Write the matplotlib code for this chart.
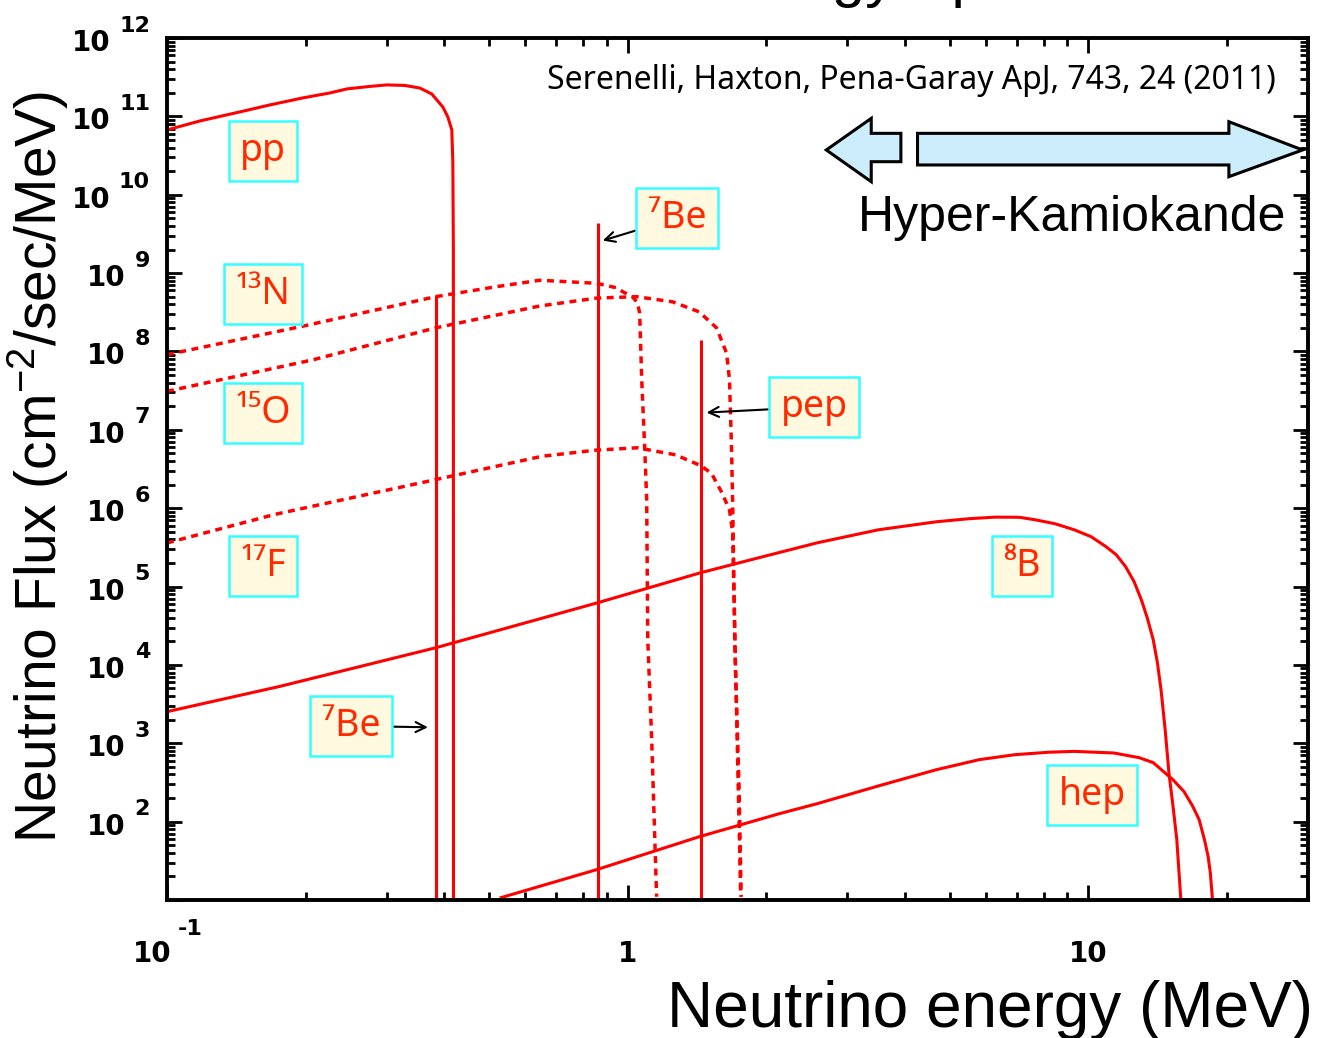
import numpy as np
import matplotlib
matplotlib.use("Agg")
import matplotlib.pyplot as plt
import matplotlib.transforms as mtransforms
from matplotlib.patches import Polygon
from matplotlib.ticker import LogLocator, NullFormatter

plt.rcParams["font.family"] = ["Liberation Sans", "DejaVu Sans"]
plt.rcParams["mathtext.fontset"] = "custom"
plt.rcParams["mathtext.rm"] = "Liberation Sans"
plt.rcParams["mathtext.it"] = "Liberation Sans:italic"
plt.rcParams["mathtext.bf"] = "Liberation Sans:bold"

# ---------------- continuum spectra: energy (MeV), flux (cm^-2 s^-1 MeV^-1) -------------
pp_E = [0.100, 0.1179, 0.1440, 0.1673, 0.1972, 0.2258, 0.2458, 0.2756, 0.3001, 0.3283,
        0.3539, 0.3757, 0.3969, 0.4071, 0.4153, 0.4174, 0.4185, 0.4188]
pp_flux = [6.71e10, 8.74e10, 1.14e11, 1.40e11, 1.72e11, 1.99e11, 2.24e11, 2.41e11,
           2.52e11, 2.48e11, 2.30e11, 1.93e11, 1.32e11, 9.83e10, 6.71e10, 2.55e10,
           1.98e9, 3.0]

N13_E = [0.100, 0.197, 0.383, 0.510, 0.644, 0.700, 0.857, 0.945, 0.978, 1.024, 1.050,
         1.062, 1.073, 1.089, 1.100, 1.106, 1.128, 1.156]
N13_flux = [9.1e7, 2.1e8, 5.0e8, 6.6e8, 8.1e8, 7.9e8, 7.4e8, 6.5e8, 5.75e8, 5.0e8, 4.2e8,
            3.1e8, 4.4e7, 6.0e6, 1.3e6, 2.1e4, 1.1e3, 11.0]

O15_E = [0.100, 0.207, 0.383, 0.644, 0.857, 1.046, 1.252, 1.430, 1.560, 1.640, 1.664,
         1.681, 1.690, 1.698, 1.711, 1.746, 1.764]
O15_flux = [3.1e7, 7.8e7, 2.0e8, 3.8e8, 4.8e8, 5.0e8, 4.3e8, 3.2e8, 2.0e8, 9.5e7, 4.4e7,
            6.0e6, 1.3e6, 2.4e5, 1.3e4, 2.6e2, 11.0]

F17_E = [0.100, 0.171, 0.381, 0.652, 0.853, 1.050, 1.270, 1.440, 1.520, 1.600, 1.664,
         1.690, 1.706, 1.730, 1.760]
F17_flux = [3.6e5, 8.3e5, 2.3e6, 4.6e6, 5.5e6, 5.9e6, 4.8e6, 3.5e6, 2.8e6, 1.6e6, 9.5e5,
            5.0e5, 4.0e4, 1.0e3, 11.0]

B8_E = [0.100, 0.1758, 0.3833, 0.8607, 1.440, 2.002, 2.583, 3.503, 4.681, 5.491, 6.285,
        7.085, 7.674, 8.479, 9.325, 10.15, 10.92, 11.50, 12.05, 12.58, 13.04, 13.43,
        13.84, 14.12, 14.39, 14.69, 14.97, 15.29, 15.57, 15.88]
B8_flux = [2530, 5320, 16560, 62100, 1.50e5, 2.47e5, 3.62e5, 5.30e5, 6.71e5, 7.33e5,
           7.69e5, 7.65e5, 7.11e5, 6.32e5, 5.30e5, 4.32e5, 3.24e5, 2.55e5, 1.80e5,
           1.15e5, 67900, 40000, 20900, 11000, 4830, 1490, 418, 151, 58.9, 10.6]

hep_E = [0.5276, 0.8566, 1.433, 2.137, 2.583, 3.521, 4.681, 5.801, 6.944, 8.230, 9.325,
         11.36, 12.90, 13.84, 15.27, 16.15, 16.86, 17.41, 17.88, 18.21, 18.41, 18.60]
hep_flux = [10.6, 24.4, 64.4, 126.5, 169.8, 287.9, 460, 618, 716, 769, 788, 752, 655,
            566, 343, 241, 157, 106, 58.9, 35.8, 22.2, 10.6]

# ---------------- monoenergetic lines: energy (MeV), flux (cm^-2 s^-1) ----------------
line_E = [0.384, 0.862, 1.442]
line_flux = [5.2e8, 4.4e9, 1.4e8]

# tick labels
y_exponents = list(range(2, 13))
x_tick_values = [0.1, 1, 10]
x_tick_bases = ["10", "1", "10"]
x_tick_exponents = ["-1", "", ""]

RED = "#FF0000"
LABEL_RED = "#FF2A00"
BOX_FACE = "#FFFADF"
BOX_EDGE = "#33FFFF"

W, H = 1318, 1038
fig = plt.figure(figsize=(W / 100, H / 100), dpi=100)
ax = fig.add_axes([167 / W, 1 - 900 / H, (1308 - 167) / W, (900 - 38) / H])
ax.set_xscale("log")
ax.set_yscale("log")
ax.set_xlim(0.1, 30)
ax.set_ylim(10, 1e12)

solid = dict(color=RED, lw=2.2, solid_capstyle="butt", solid_joinstyle="round")
dotted = dict(color=RED, lw=2.5, linestyle=(0, (2.0, 1.6)))

ax.plot(pp_E, pp_flux, **solid)
ax.plot(B8_E, B8_flux, **solid)
ax.plot(hep_E, hep_flux, **solid)
ax.plot(N13_E, N13_flux, **dotted)
ax.plot(O15_E, O15_flux, **dotted)
ax.plot(F17_E, F17_flux, **dotted)
ax.vlines(line_E, 1.0, line_flux, colors=RED, lw=2.2)

# axes frame and ticks
for s in ax.spines.values():
    s.set_linewidth(2.8)
ax.xaxis.set_major_locator(LogLocator(base=10, numticks=20))
ax.xaxis.set_minor_locator(LogLocator(base=10, subs=np.arange(2, 10), numticks=100))
ax.yaxis.set_major_locator(LogLocator(base=10, numticks=30))
ax.yaxis.set_minor_locator(LogLocator(base=10, subs=np.arange(2, 10), numticks=200))
for axis in (ax.xaxis, ax.yaxis):
    axis.set_major_formatter(NullFormatter())
    axis.set_minor_formatter(NullFormatter())
ax.tick_params(which="both", direction="in", top=True, right=True, width=2.0, color="k")
ax.tick_params(which="major", length=10.5)
ax.tick_params(which="minor", length=5.5)

# y tick labels: bold "10" with a raised exponent
tick_font = dict(fontweight="bold", color="k", family="DejaVu Sans")
base_fs, exp_fs = 20, 16
ytrans = ax.get_yaxis_transform()
exp_digit_px = 0.696 * exp_fs * 100 / 72
for k in y_exponents:
    t_exp = mtransforms.offset_copy(ytrans, fig=fig, x=-17, y=6.5, units="dots")
    ax.text(0, 10.0 ** k, str(k), transform=t_exp, ha="right", va="baseline",
            fontsize=exp_fs, clip_on=False, **tick_font)
    shift = -17 - len(str(k)) * exp_digit_px - 9
    t_base = mtransforms.offset_copy(ytrans, fig=fig, x=shift, y=-13, units="dots")
    ax.text(0, 10.0 ** k, "10", transform=t_base, ha="right", va="baseline",
            fontsize=base_fs, clip_on=False, **tick_font)

# x tick labels
xtrans = ax.get_xaxis_transform()
for v, b, e in zip(x_tick_values, x_tick_bases, x_tick_exponents):
    if e:
        t_base = mtransforms.offset_copy(xtrans, fig=fig, x=5, y=-62, units="dots")
        ax.text(v, 0, b, transform=t_base, ha="right", va="baseline",
                fontsize=base_fs, clip_on=False, **tick_font)
        t_exp = mtransforms.offset_copy(xtrans, fig=fig, x=11, y=-35, units="dots")
        ax.text(v, 0, e, transform=t_exp, ha="left", va="baseline",
                fontsize=exp_fs, clip_on=False, **tick_font)
    else:
        t_base = mtransforms.offset_copy(xtrans, fig=fig, x=0, y=-62, units="dots")
        ax.text(v, 0, b, transform=t_base, ha="center", va="baseline",
                fontsize=base_fs, clip_on=False, **tick_font)

# axis titles
fig.text(1313 / W, 1 - 1027 / H, "Neutrino energy (MeV)", ha="right", va="baseline",
         fontsize=46, color="k")
fig.text(38 / W, 1 - 467 / H, r"Neutrino Flux (cm$^{-2}$/sec/MeV)", rotation=90,
         ha="center", va="center", fontsize=41, color="k")

# heading (runs off the top edge)
fig.text((167 + 1308) / 2 / W, 1 + 4 / H, "Solar Neutrino Energy Spectrum",
         ha="center", va="baseline", fontsize=43, color="k")

# source reference
ax.text(0.972, 0.941, "Serenelli, Haxton, Pena-Garay ApJ, 743, 24 (2011)",
        transform=ax.transAxes, ha="right", va="baseline", fontsize=23, color="k",
        family=["Noto Sans", "DejaVu Sans"])

# Hyper-Kamiokande energy range arrows
htrans = mtransforms.blended_transform_factory(ax.transData, ax.transAxes)
left_arrow = [(2.70, 0.8701), (3.38, 0.9068), (3.38, 0.8894), (3.92, 0.8894),
              (3.92, 0.8565), (3.38, 0.8565), (3.38, 0.8333)]
right_arrow = [(4.26, 0.8894), (20.2, 0.8894), (20.2, 0.9029), (29.2, 0.8701),
               (20.2, 0.8391), (20.2, 0.8527), (4.26, 0.8527)]
for verts in (left_arrow, right_arrow):
    ax.add_patch(Polygon(verts, closed=True, transform=htrans, facecolor="#CCEEFC",
                         edgecolor="k", lw=2.2, joinstyle="miter", clip_on=False, zorder=5))
ax.text(0.6055, 0.7764, "Hyper-Kamiokande", transform=ax.transAxes, ha="left",
        va="baseline", fontsize=36, color="k")

# source labels
box = dict(boxstyle="square,pad=0.3", facecolor=BOX_FACE, edgecolor=BOX_EDGE, lw=1.8)
lab_font = dict(fontsize=27, color=LABEL_RED, family=["Noto Sans", "DejaVu Sans"],
                ha="center", va="center", bbox=box, zorder=6)
ax.text(0.0841, 0.8689, "pp", transform=ax.transAxes, **lab_font)
ax.text(0.0841, 0.7030, "¹³N", transform=ax.transAxes, **lab_font)
ax.text(0.0841, 0.5650, "¹⁵O", transform=ax.transAxes, **lab_font)
ax.text(0.0841, 0.3875, "¹⁷F", transform=ax.transAxes, **lab_font)
ax.text(0.7493, 0.3875, "⁸B", transform=ax.transAxes, **lab_font)
ax.text(0.8107, 0.1218, "hep", transform=ax.transAxes, **lab_font)

arrow = dict(arrowstyle="->", color="k", lw=1.5, shrinkA=0, shrinkB=0,
             mutation_scale=18)
ax.annotate("⁷Be", xy=(0.3685, 1.6e3), xycoords="data", xytext=(0.1613, 0.2019),
            textcoords="axes fraction", arrowprops=arrow, **lab_font)
ax.annotate("⁷Be", xy=(0.883, 2.6e9), xycoords="data", xytext=(0.4470, 0.7912),
            textcoords="axes fraction", arrowprops=arrow, **lab_font)
ax.annotate("pep", xy=(1.484, 1.66e7), xycoords="data", xytext=(0.5671, 0.5719),
            textcoords="axes fraction", arrowprops=arrow, **lab_font)

fig.savefig("out.png", dpi=100)
